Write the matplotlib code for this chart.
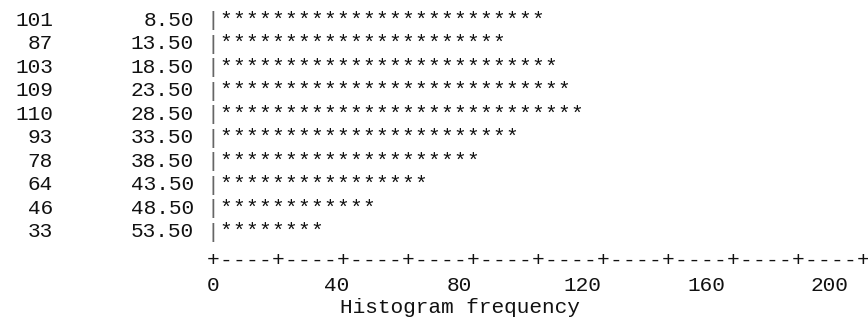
import matplotlib
matplotlib.use("Agg")
import matplotlib.pyplot as plt

# ---- data ----
midpoints = ["8.50", "13.50", "18.50", "23.50", "28.50", "33.50", "38.50", "43.50", "48.50", "53.50"]
counts = [101, 87, 103, 109, 110, 93, 78, 64, 46, 33]
tick_values = [0, 40, 80, 120, 160, 200]
xlabel = "Histogram frequency"
per_star = 4          # each '*' stands for 4 observations
axis_max = 200

# ---- layout (pixels) ----
W, H, DPI = 868, 320, 100
x0_px = 213.0         # pixel of frequency 0
px_per_unit = 3.25    # pixels per frequency unit
row0_px = 19.0        # centre of first row
row_px = 23.5         # row pitch
FONT = "Liberation Mono"
FS = 15.2
COLOR = "#111111"
LABEL_SCALE = 0.948   # tick labels line has a slightly tighter pitch

fig = plt.figure(figsize=(W / DPI, H / DPI), dpi=DPI)
ax = fig.add_axes([0, 0, 1, 1])
ax.set_axis_off()
ax.set_xlim(-x0_px / px_per_unit, (W - x0_px) / px_per_unit)
ax.set_ylim((H - row0_px) / row_px, -row0_px / row_px)

base_off = 6.6 / row_px   # baseline offset below digit centre (row units)
kw = dict(family=FONT, fontsize=FS, color=COLOR, va="baseline")

count_right = (53 - x0_px) / px_per_unit
mid_right = (194 - x0_px) / px_per_unit

for i, (m, c) in enumerate(zip(midpoints, counts)):
    y = i + base_off
    ax.text(count_right, y, str(c), ha="right", **kw)
    ax.text(mid_right, y, m, ha="right", **kw)
    ax.text(0, y + 0.02, "|", ha="center", family=FONT, fontsize=FS,
            color="#666666", va="baseline")
    n = int(c / per_star + 0.5)
    for k in range(1, n + 1):
        ax.text(k * per_star, y, "*", ha="center", **kw)

# axis line made of '+' and '-'
n_rows = len(counts)
y_axis = n_rows + (260 - row0_px - 10 * row_px) / row_px + 6.0 / row_px
for v in range(0, axis_max + 1, per_star):
    ch = "+" if v % 20 == 0 else "-"
    ax.text(v, y_axis, ch, ha="center", **kw)

# tick labels
y_lab = (284 - row0_px) / row_px + base_off
for v in tick_values:
    ax.text(v * LABEL_SCALE, y_lab, str(v), ha="center", **kw)

# axis label
y_xl = (306 - row0_px) / row_px + base_off
ax.text((459.5 - x0_px) / px_per_unit, y_xl, xlabel, ha="center", **kw)

fig.savefig("out.png", dpi=DPI, facecolor="white")
